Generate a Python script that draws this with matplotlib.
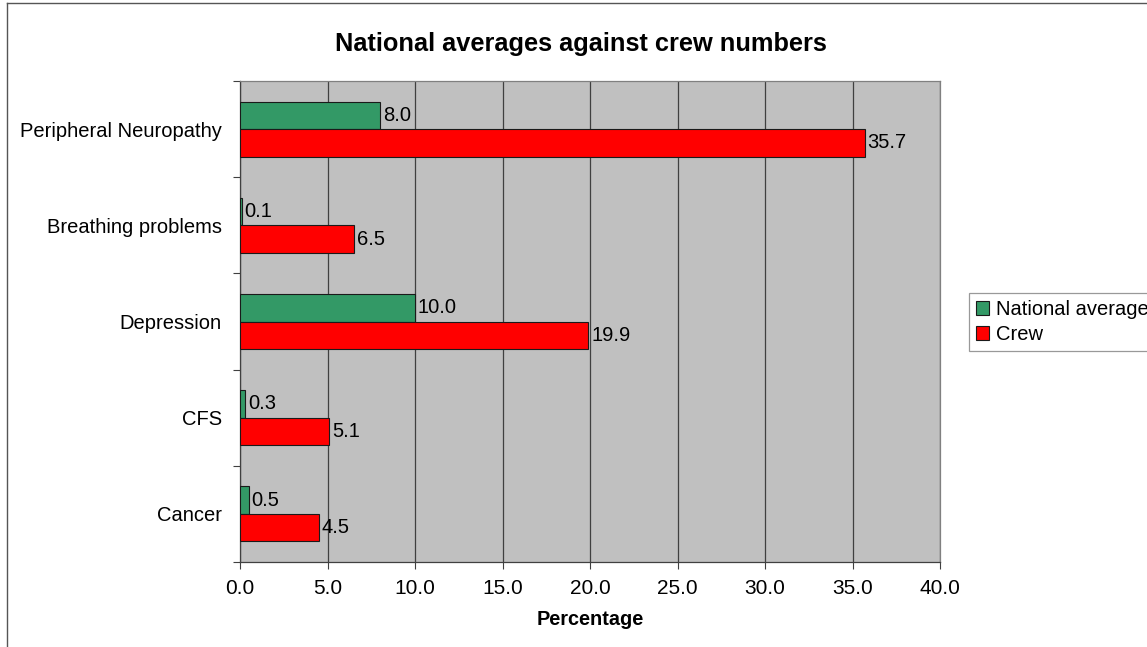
import numpy as np
import matplotlib.pyplot as plt
from matplotlib.lines import Line2D
from matplotlib.patches import Patch

plt.rcParams['font.family'] = ['Liberation Sans', 'DejaVu Sans']

categories = ["Peripheral Neuropathy", "Breathing problems", "Depression", "CFS", "Cancer"]
national = [8.0, 0.1, 10.0, 0.3, 0.5]
crew = [35.7, 6.5, 19.9, 5.1, 4.5]
x_ticks = [0, 5, 10, 15, 20, 25, 30, 35, 40]

GREEN = '#339966'
RED = '#ff0000'

W, H = 1147, 647
fig = plt.figure(figsize=(W / 100, H / 100), dpi=100)
fig.patch.set_facecolor('white')

# plot area in pixel coordinates
left, right, top, bottom = 240, 940, 81, 562
ax = fig.add_axes([left / W, 1 - bottom / H, (right - left) / W, (bottom - top) / H])
ax.set_facecolor('#c0c0c0')

n = len(categories)
bar_h = 1 / 3.5
y = np.arange(n) + 0.5
ax.barh(y - bar_h / 2, national, height=bar_h, color=GREEN, edgecolor='#1a1a1a', linewidth=0.8, zorder=3)
ax.barh(y + bar_h / 2, crew, height=bar_h, color=RED, edgecolor='#1a1a1a', linewidth=0.8, zorder=3)

for yi, v in zip(y - bar_h / 2, national):
    ax.annotate(f"{v:.1f}", (v, yi), xytext=(2, 0), textcoords='offset points',
                va='center', ha='left', fontsize=14.5, zorder=4)
for yi, v in zip(y + bar_h / 2, crew):
    ax.annotate(f"{v:.1f}", (v, yi), xytext=(2, 0), textcoords='offset points',
                va='center', ha='left', fontsize=14.5, zorder=4)

ax.set_xlim(0, 40)
ax.set_ylim(n, 0)
ax.set_xticks(x_ticks)
ax.set_xticklabels([f"{t:.1f}" for t in x_ticks], fontsize=15)
ax.tick_params(axis='x', direction='out', length=5, width=0.8, color='#404040', pad=7)
ax.xaxis.grid(True, color='#404040', linewidth=0.9, zorder=1)

# category separators as major ticks, names as minor ticks
ax.set_yticks(np.arange(n + 1))
ax.set_yticklabels([])
ax.set_yticks(y, minor=True)
ax.set_yticklabels(categories, minor=True, fontsize=14.5)
ax.tick_params(axis='y', which='major', direction='out', length=5, width=0.8, color='#404040')
ax.tick_params(axis='y', which='minor', length=0, pad=13)

for s in ax.spines.values():
    s.set_color('#808080')
    s.set_linewidth(0.9)
ax.spines['left'].set_color('#404040')
ax.spines['bottom'].set_color('#404040')

ax.set_xlabel("Percentage", fontsize=14.3, fontweight='bold', labelpad=9)
fig.text(581 / W, 1 - 44 / H, "National averages against crew numbers",
         ha='center', va='center', fontsize=18.3, fontweight='bold')

handles = [Patch(facecolor=GREEN, edgecolor='#1a1a1a', linewidth=0.8, label='National average'),
           Patch(facecolor=RED, edgecolor='#1a1a1a', linewidth=0.8, label='Crew')]
leg = fig.legend(handles=handles, loc='upper left', bbox_to_anchor=(969 / W, 1 - 293 / H),
                 fontsize=14.5, frameon=True, fancybox=False, handlelength=0.65, handleheight=0.65,
                 handletextpad=0.35, labelspacing=0.3, borderpad=0.35, borderaxespad=0)
leg.get_frame().set_edgecolor('#808080')
leg.get_frame().set_linewidth(0.9)

# chart area border
fig.add_artist(Line2D([7 / W, 7 / W], [0, 1 - 3 / H], color='#555555', linewidth=1))
fig.add_artist(Line2D([7 / W, 1], [1 - 3 / H, 1 - 3 / H], color='#555555', linewidth=1))

fig.savefig('out.png', dpi=100)
